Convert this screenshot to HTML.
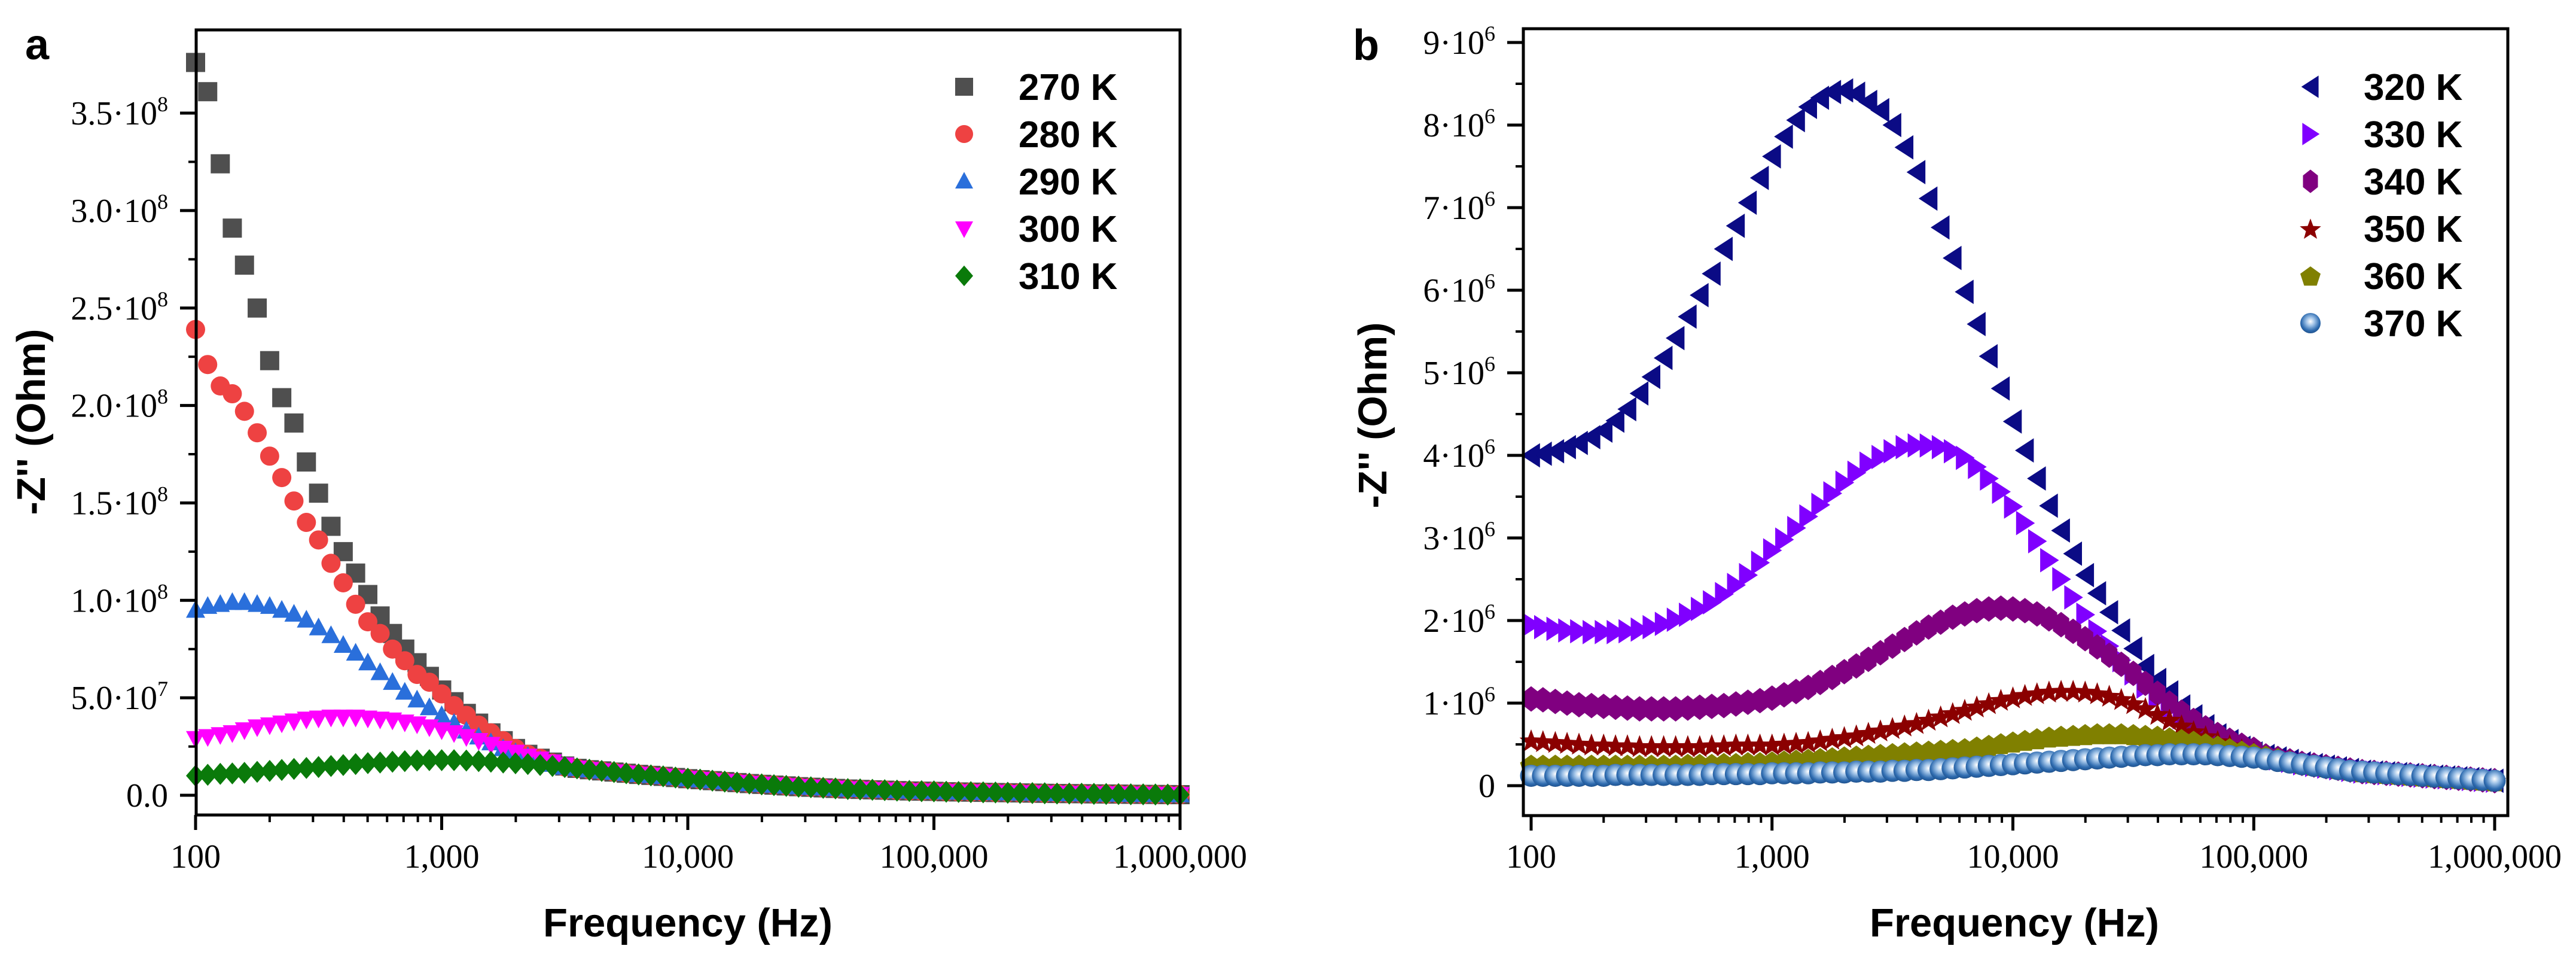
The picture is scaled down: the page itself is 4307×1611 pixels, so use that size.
<!DOCTYPE html>
<html><head><meta charset="utf-8"><style>
html,body{margin:0;padding:0;background:#fff;}
svg{display:block;}
.tick{font-family:"Liberation Serif",serif;font-size:56px;fill:#000;}
.ttl{font-family:"Liberation Sans",sans-serif;font-weight:bold;fill:#000;}
</style></head><body>
<svg id="fig" xmlns="http://www.w3.org/2000/svg" width="4307" height="1611" viewBox="0 0 4307 1611">
<defs>
<radialGradient id="sph" cx="0.5" cy="0.42" r="0.6"><stop offset="0" stop-color="#ffffff"/><stop offset="0.35" stop-color="#9cc0e6"/><stop offset="0.75" stop-color="#2f6cb0"/><stop offset="1" stop-color="#1d4f8a"/></radialGradient>
</defs>
<text x="42" y="99" class="ttl" font-size="72">a</text>
<text x="2262" y="100" class="ttl" font-size="72">b</text>
<g id="pa"></g>
<g id="pb"></g>
</svg>
<script>
const freqs = [100,112,126,141,158,178,200,224,251,282,316,355,398,447,501,562,631,708,794,891,
1000,1122,1259,1413,1585,1778,1995,2239,2512,2818,3162,3548,3981,4467,5012,5623,6310,7079,7943,8913,
10000,11220,12589,14125,15849,17783,19953,22387,25119,28184,31623,35481,39811,44668,50119,56234,63096,70795,79433,89125,
100000,112202,125893,141254,158489,177828,199526,223872,251189,281838,316228,354813,398107,446684,501187,562341,630957,707946,794328,891251,1000000];

// Panel a values in units of 1e7 Ohm
const tailA = [1.38,1.31,1.25,1.19,1.13,1.07,1.02,0.97,0.91,0.85,0.8,0.75,0.7,0.65,0.6,0.56,0.52,0.48,0.44,0.41,0.38,0.35,0.32,0.3,0.28,0.26,0.24,0.22,0.21,0.2,0.18,0.17,0.16,0.15,0.14,0.13,0.12,0.11,0.1,0.09,0.085,0.08,0.07,0.065,0.06,0.05,0.045,0.04,0.035,0.03];
const a270 = [37.6,36.1,32.4,29.1,27.2,25.0,22.3,20.4,19.1,17.1,15.5,13.8,12.5,11.4,10.3,9.2,8.3,7.5,6.8,6.1,5.4,4.8,4.2,3.7,3.2,2.8,2.4,2.1,1.9,1.7,1.5].concat(tailA);
const a280 = [23.9,22.1,21.0,20.6,19.7,18.6,17.4,16.3,15.1,14.0,13.1,11.9,10.9,9.8,8.9,8.3,7.5,6.9,6.2,5.8,5.2,4.6,4.1,3.6,3.2,2.8,2.4,2.1,1.9,1.65,1.45].concat(tailA);
const a290 = [9.5,9.7,9.8,9.9,9.9,9.8,9.7,9.5,9.3,9.0,8.6,8.2,7.7,7.3,6.8,6.3,5.8,5.3,4.9,4.5,4.1,3.7,3.3,3.0,2.7,2.4,2.2,2.0,1.8,1.6,1.45].concat(tailA);
const a300 = [2.9,3.0,3.1,3.2,3.35,3.5,3.6,3.7,3.8,3.9,3.95,4.0,4.0,4.0,3.95,3.9,3.85,3.75,3.65,3.5,3.35,3.2,3.0,2.8,2.6,2.4,2.2,2.0,1.85,1.7,1.55].concat(tailA);
const a310 = [1.0,1.05,1.1,1.12,1.15,1.2,1.25,1.3,1.35,1.4,1.45,1.5,1.55,1.6,1.65,1.68,1.72,1.75,1.78,1.8,1.8,1.8,1.78,1.75,1.72,1.68,1.64,1.6,1.55,1.5,1.45].concat(tailA);

// Panel b values in units of 1e6 Ohm
const tailB = [0.36,0.33,0.3,0.27,0.25,0.23,0.21,0.19,0.17,0.16,0.15,0.14,0.13,0.12,0.11,0.1,0.09,0.08,0.07,0.06];
const b320 = [4.0,4.02,4.05,4.1,4.15,4.22,4.3,4.42,4.56,4.75,4.95,5.18,5.42,5.68,5.94,6.2,6.5,6.78,7.06,7.36,7.62,7.86,8.06,8.22,8.33,8.4,8.42,8.38,8.28,8.18,8.0,7.73,7.43,7.11,6.76,6.39,5.98,5.59,5.2,4.81,4.41,4.06,3.72,3.39,3.09,2.81,2.55,2.33,2.1,1.88,1.66,1.45,1.28,1.13,0.96,0.84,0.72,0.61,0.54,0.46,0.39].concat(tailB);
const b330 = [1.95,1.92,1.9,1.88,1.87,1.86,1.86,1.86,1.87,1.89,1.92,1.96,2.01,2.07,2.14,2.22,2.32,2.43,2.55,2.7,2.85,2.98,3.12,3.26,3.4,3.54,3.67,3.79,3.9,3.98,4.05,4.1,4.12,4.12,4.1,4.05,3.97,3.86,3.72,3.56,3.38,3.18,2.96,2.73,2.5,2.28,2.07,1.87,1.69,1.52,1.36,1.2,1.06,0.94,0.83,0.74,0.66,0.58,0.51,0.45,0.4].concat(tailB);
const b340 = [1.05,1.04,1.02,1.0,0.98,0.97,0.96,0.95,0.94,0.93,0.93,0.93,0.93,0.94,0.95,0.96,0.97,0.99,1.01,1.03,1.06,1.1,1.14,1.19,1.25,1.31,1.38,1.45,1.53,1.61,1.69,1.77,1.85,1.92,1.98,2.04,2.08,2.12,2.14,2.15,2.14,2.12,2.08,2.02,1.95,1.87,1.78,1.68,1.58,1.47,1.36,1.24,1.12,1.0,0.89,0.79,0.7,0.62,0.55,0.49,0.44].concat(tailB);
const b350 = [0.55,0.54,0.53,0.52,0.51,0.5,0.5,0.49,0.49,0.48,0.48,0.48,0.48,0.48,0.48,0.49,0.49,0.5,0.5,0.5,0.5,0.51,0.52,0.53,0.55,0.57,0.59,0.61,0.64,0.67,0.7,0.73,0.76,0.8,0.84,0.88,0.92,0.96,1.0,1.04,1.07,1.1,1.12,1.14,1.15,1.15,1.14,1.12,1.09,1.05,1.0,0.94,0.87,0.8,0.73,0.66,0.6,0.54,0.49,0.44,0.4].concat(tailB);
const b360 = [0.25,0.25,0.25,0.25,0.25,0.25,0.25,0.25,0.25,0.25,0.25,0.25,0.25,0.26,0.26,0.26,0.27,0.27,0.28,0.28,0.29,0.3,0.31,0.32,0.33,0.34,0.35,0.36,0.37,0.38,0.39,0.4,0.41,0.42,0.43,0.44,0.45,0.47,0.49,0.51,0.53,0.55,0.57,0.59,0.6,0.61,0.62,0.63,0.63,0.63,0.62,0.61,0.6,0.58,0.56,0.54,0.51,0.48,0.45,0.42,0.39].concat(tailB);
const b370 = [0.12,0.12,0.12,0.12,0.12,0.12,0.12,0.13,0.13,0.13,0.13,0.13,0.13,0.13,0.13,0.14,0.14,0.14,0.14,0.14,0.15,0.15,0.15,0.15,0.16,0.16,0.16,0.17,0.17,0.17,0.18,0.18,0.19,0.19,0.2,0.21,0.22,0.23,0.24,0.25,0.26,0.27,0.28,0.29,0.3,0.31,0.32,0.33,0.34,0.35,0.36,0.37,0.37,0.38,0.38,0.38,0.38,0.37,0.36,0.35,0.34,0.32,0.3,0.28,0.26,0.24,0.22,0.2,0.18,0.17,0.16,0.15,0.14,0.13,0.12,0.11,0.1,0.09,0.08,0.07,0.06];

const xTickVals = [100,1000,10000,100000,1000000];
const xTickLabels = ["100","1,000","10,000","100,000","1,000,000"];
const aYTickVals = [0,5,10,15,20,25,30,35];
const aYTickMant = ["0.0","5.0·10","1.0·10","1.5·10","2.0·10","2.5·10","3.0·10","3.5·10"];
const aYTickExp = ["","7","8","8","8","8","8","8"];
const bYTickVals = [0,1,2,3,4,5,6,7,8,9];
const bYTickMant = ["0","1·10","2·10","3·10","4·10","5·10","6·10","7·10","8·10","9·10"];
const bYTickExp = ["","6","6","6","6","6","6","6","6","6"];
const aLabels = ["270 K","280 K","290 K","300 K","310 K"];
const bLabels = ["320 K","330 K","340 K","350 K","360 K","370 K"];

const NS = "http://www.w3.org/2000/svg";
function mk(tag, attrs, parent){const e=document.createElementNS(NS,tag);for(const k in attrs)e.setAttribute(k,attrs[k]);parent.appendChild(e);return e;}

function marker(g, shape, color, cx, cy, s){
  let e;
  if(shape==='square'){e=mk('rect',{x:cx-s/2,y:cy-s/2,width:s,height:s,fill:color},g);}
  else if(shape==='circle'){e=mk('circle',{cx:cx,cy:cy,r:s/2,fill:color},g);}
  else if(shape==='sphere'){e=mk('circle',{cx:cx,cy:cy,r:s/2,fill:'url(#sph)'},g);}
  else{
    let pts=[];
    const h=s/2;
    if(shape==='up')pts=[[0,-h*1.05],[h,h*0.8],[-h,h*0.8]];
    else if(shape==='down')pts=[[0,h*1.05],[h,-h*0.8],[-h,-h*0.8]];
    else if(shape==='diamond')pts=[[0,-h*1.15],[h,0],[0,h*1.15],[-h,0]];
    else if(shape==='left')pts=[[-h*0.9,0],[h*0.8,-h*1.1],[h*0.8,h*1.1]];
    else if(shape==='right')pts=[[h*0.9,0],[-h*0.8,-h*1.1],[-h*0.8,h*1.1]];
    else if(shape==='hex'){for(let k=0;k<6;k++){const a=Math.PI/2+k*Math.PI/3;pts.push([Math.cos(a)*h*0.85,Math.sin(a)*h*1.15]);}}
    else if(shape==='pent'){for(let k=0;k<5;k++){const a=-Math.PI/2+k*2*Math.PI/5;pts.push([Math.cos(a)*h*1.05,Math.sin(a)*h*1.05+2]);}}
    else if(shape==='star'){for(let k=0;k<10;k++){const a=-Math.PI/2+k*Math.PI/5;const r=(k%2?0.42:1)*h*1.1;pts.push([Math.cos(a)*r,Math.sin(a)*r+2]);}}
    e=mk('polygon',{points:pts.map(p=>(cx+p[0]).toFixed(1)+','+(cy+p[1]).toFixed(1)).join(' '),fill:color},g);
  }
  return e;
}

function panel(cfg){
  const g=document.getElementById(cfg.id);
  const X=f=>cfg.x100+Math.log10(f/100)*cfg.dec;
  const Y=v=>cfg.y0-v*cfg.py;
  cfg.series.forEach((s,si)=>{
    const sg=mk('g',{},g);
    
    
    s.vals.forEach((v,i)=>{
      const m=marker(sg,s.shape,s.color,X(freqs[i]),Y(v),cfg.ms);
      
      
    });
  });
  const fr=mk('rect',{x:cfg.L,y:cfg.T,width:cfg.R-cfg.L,height:cfg.B-cfg.T,fill:'none',stroke:'#000','stroke-width':5},g);
  
  
  const xg=mk('g',{},g);
  
  
  xTickVals.forEach((v,i)=>{
    const x=X(v);
    mk('line',{x1:x,x2:x,y1:cfg.B,y2:cfg.B+25,stroke:'#000','stroke-width':5},xg);
    const t=mk('text',{x:x,y:1450,'text-anchor':'middle',class:'tick'},xg);
    t.textContent=xTickLabels[i];
    
    
    if(i<xTickVals.length-1){for(let m=2;m<=9;m++){const xm=X(v*m);mk('line',{x1:xm,x2:xm,y1:cfg.B,y2:cfg.B+12,stroke:'#000','stroke-width':4},xg);}}
  });
  const yg=mk('g',{},g);
  
  
  cfg.yv.forEach((v,i)=>{
    const y=Y(v);
    mk('line',{x1:cfg.L-27,x2:cfg.L,y1:y,y2:y,stroke:'#000','stroke-width':5},yg);
    if(i<cfg.yv.length-1){const ym=Y(v+cfg.ystep/2);mk('line',{x1:cfg.L-13,x2:cfg.L,y1:ym,y2:ym,stroke:'#000','stroke-width':4},yg);}
    const t=mk('text',{x:cfg.L-47,y:y+19,'text-anchor':'end',class:'tick'},yg);
    
    
    const t1=mk('tspan',{},t);t1.textContent=cfg.ym[i];
    if(cfg.ye[i]){const t2=mk('tspan',{dy:-22,'font-size':36},t);t2.textContent=cfg.ye[i];}
  });
  const xt=mk('text',{x:cfg.xtx,y:1565,'text-anchor':'middle',class:'ttl','font-size':67},g);
  xt.textContent='Frequency (Hz)';
  
  
  const yt=mk('text',{x:0,y:0,'text-anchor':'middle',class:'ttl','font-size':67,transform:'translate('+cfg.ytx+','+cfg.yty+') rotate(-90)'},g);
  yt.textContent="-Z'' (Ohm)";
  
  
  const lg=mk('g',{},g);
  
  
  cfg.series.forEach((s,i)=>{
    const y=145+i*79;
    const eg=mk('g',{},lg);
    
    
    marker(eg,s.shape,s.color,cfg.lmx,y,cfg.lms);
    const t=mk('text',{x:cfg.ltx,y:y+22,class:'ttl','font-size':62},eg);
    t.textContent=cfg.labels[i];
  });
}

panel({id:'pa',x100:327,dec:411.5,y0:1329,py:32.57,L:328,R:1973,T:50,B:1362,ms:32,
  yv:aYTickVals,ym:aYTickMant,ye:aYTickExp,ystep:5,labels:aLabels,
  xtx:1150,ytx:75,yty:705,lmx:1612,ltx:1703,lms:30,
  series:[{vals:a270,shape:'square',color:'#4f4f4f'},{vals:a280,shape:'circle',color:'#ee4242'},
    {vals:a290,shape:'up',color:'#2a6fdb'},{vals:a300,shape:'down',color:'#ff00ff'},{vals:a310,shape:'diamond',color:'#0a7a0a'}]});
panel({id:'pb',x100:2560,dec:402.75,y0:1313,py:138,L:2547,R:4193,T:48,B:1363,ms:37,
  yv:bYTickVals,ym:bYTickMant,ye:bYTickExp,ystep:1,labels:bLabels,
  xtx:3368,ytx:2318,yty:694,lmx:3863,ltx:3952,lms:34,
  series:[{vals:b320,shape:'left',color:'#0b0b85'},{vals:b330,shape:'right',color:'#8000ff'},
    {vals:b340,shape:'hex',color:'#800080'},{vals:b350,shape:'star',color:'#8b0000'},
    {vals:b360,shape:'pent',color:'#808000'},{vals:b370,shape:'sphere',color:'#2f6cb0'}]});
</script>
</body></html>
